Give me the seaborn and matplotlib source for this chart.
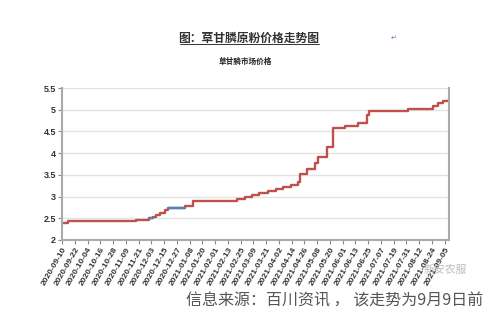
import matplotlib
matplotlib.use("Agg")
import matplotlib.pyplot as plt
import matplotlib.dates as mdates
import seaborn as sns
import pandas as pd

# ---- data (step changes of price) ----
change_dates = ["2020-09-10", "2020-09-16", "2020-11-19", "2020-12-01", "2020-12-05",
                "2020-12-07", "2020-12-11", "2020-12-16", "2020-12-19", "2021-01-04",
                "2021-01-11", "2021-02-22", "2021-03-01", "2021-03-08", "2021-03-14",
                "2021-03-23", "2021-03-30", "2021-04-06", "2021-04-13", "2021-04-20",
                "2021-04-22", "2021-04-28", "2021-05-06", "2021-05-09", "2021-05-17",
                "2021-05-23", "2021-06-03", "2021-06-15", "2021-06-24", "2021-06-26",
                "2021-08-01", "2021-08-25", "2021-08-30", "2021-09-03", "2021-09-09"]
prices = [2.40, 2.44, 2.47, 2.50, 2.54,
          2.58, 2.63, 2.68, 2.73, 2.79,
          2.90, 2.94, 3.00, 3.04, 3.08,
          3.12, 3.17, 3.21, 3.27, 3.33,
          3.53, 3.63, 3.78, 3.92, 4.14,
          4.57, 4.63, 4.70, 4.88, 4.98,
          5.01, 5.09, 5.15, 5.21, 5.24]
# segments drawn in blue (start, end)
blue_segments = [("2020-12-01", "2020-12-05"), ("2020-12-19", "2021-01-04")]

y_ticks = [2, 2.5, 3, 3.5, 4, 4.5, 5, 5.5]
y_tick_labels = ["2", "2.5", "3", "3.5", "4", "4.5", "5", "5.5"]
x_tick_start = "2020-09-10"
x_tick_count = 31
x_tick_step_days = 12

page_title = "图：草甘膦原粉价格走势图"
chart_title = "草甘膦市场价格"
source_text = "信息来源：百川资讯 ， 该走势为9月9日前"
watermark = "新安农服"

# ---- plotting ----
sns.set_theme(style="white")
plt.rcParams["font.family"] = ["Noto Sans CJK SC", "DejaVu Sans"]

df = pd.DataFrame({"date": pd.to_datetime(change_dates), "price": prices})

fig = plt.figure(figsize=(5.0, 3.22), dpi=100)
ax = fig.add_axes([0.124, 0.2547, 0.774, 0.472])

red = "#c0504d"
blue = "#4f81bd"
sns.lineplot(data=df, x="date", y="price", ax=ax, color=red, linewidth=1.7,
             drawstyle="steps-post", sort=True)
for s, e in blue_segments:
    seg = df[(df["date"] >= pd.Timestamp(s)) & (df["date"] <= pd.Timestamp(e))].copy()
    seg.loc[seg.index[-1], "price"] = seg["price"].iloc[-2]
    sns.lineplot(data=seg, x="date", y="price", ax=ax, color=blue, linewidth=1.7,
                 drawstyle="steps-post", sort=True)

ax.set_ylim(2, 5.5)
ax.set_xlim(pd.Timestamp(change_dates[0]), pd.Timestamp(change_dates[-1]))
ax.set_yticks(y_ticks)
ax.set_yticklabels(y_tick_labels, family=["Liberation Sans"], fontweight="bold",
                   fontsize=6.5, color="#333333")
xt = pd.date_range(x_tick_start, periods=x_tick_count, freq=f"{x_tick_step_days}D")
ax.set_xticks(xt)
ax.set_xticklabels([d.strftime("%Y-%m-%d") for d in xt], rotation=60, ha="right",
                   rotation_mode="anchor", family=["Liberation Sans"], fontweight="bold",
                   fontsize=6.0, color="#333333")
ax.set_xlabel("")
ax.set_ylabel("")
ax.yaxis.grid(True, color="#e3e3e3", linewidth=1.0)
ax.set_axisbelow(True)
for side in ["left", "bottom", "right"]:
    ax.spines[side].set_color("#aaaaaa")
    ax.spines[side].set_linewidth(1.5)
ax.spines["top"].set_visible(False)
ax.tick_params(axis="both", which="both", length=3, width=0.8, color="#888888",
               pad=1.5, bottom=True, left=True)

fig.text(0.498, 0.882, page_title, ha="center", va="center", fontsize=8.5,
         fontweight="bold", color="#333333")
fig.add_artist(plt.Line2D([0.36, 0.638], [0.862, 0.862], color="#333333", linewidth=0.7))
fig.text(0.787, 0.882, "↵", ha="center", va="center", fontsize=5, color="#4f81bd",
         family=["DejaVu Sans"])
fig.text(0.49, 0.81, chart_title, ha="center", va="center", fontsize=5.5,
         fontweight="bold", color="#222222")
fig.text(0.966, 0.065, source_text, ha="right", va="center", fontsize=11.5,
         color="#555555")
fig.text(0.89, 0.161, watermark, ha="center", va="center", fontsize=7.8,
         color="#bbbbbb")

fig.savefig("out.png", dpi=100, facecolor="white")
